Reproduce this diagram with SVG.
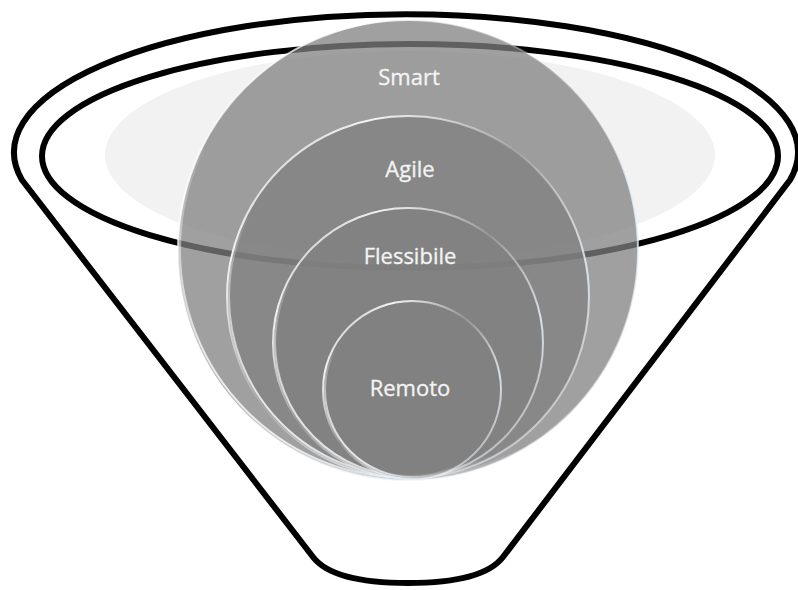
<svg xmlns="http://www.w3.org/2000/svg" width="798" height="590" viewBox="0 0 798 590">
  <defs>
    <linearGradient id="hl" x1="0" y1="0" x2="1" y2="1">
      <stop offset="0" stop-color="#ffffff" stop-opacity="0.2"/>
      <stop offset="0.2" stop-color="#ffffff" stop-opacity="0.9"/>
      <stop offset="0.45" stop-color="#ffffff" stop-opacity="0.15"/>
      <stop offset="0.7" stop-color="#e8f0f8" stop-opacity="0.85"/>
      <stop offset="1" stop-color="#ffffff" stop-opacity="0.2"/>
    </linearGradient>
    <linearGradient id="hl2" x1="1" y1="0" x2="0" y2="1">
      <stop offset="0" stop-color="#ffffff" stop-opacity="0"/>
      <stop offset="0.6" stop-color="#ffffff" stop-opacity="0"/>
      <stop offset="0.85" stop-color="#ffffff" stop-opacity="0.8"/>
      <stop offset="1" stop-color="#ffffff" stop-opacity="0.3"/>
    </linearGradient>
  </defs>
  <style>
    .line { fill: none; stroke: #000000; stroke-width: 6; stroke-linejoin: round; }
    .disc { fill: #808080; fill-opacity: 0.75; stroke: url(#hl); stroke-width: 2; }
    .glow { fill: none; stroke: url(#hl2); stroke-width: 2; }
    .label { font-family: "Open Sans", "Noto Sans", "Liberation Sans", sans-serif; font-size: 22px; fill: #f4f4f4; stroke: #f4f4f4; stroke-width: 0.3; text-anchor: middle; }
  </style>
  <rect width="798" height="590" fill="#ffffff"/>
  <g id="funnel">
    <ellipse cx="410" cy="155" rx="305" ry="104" fill="#f2f2f2"/>
    <ellipse cx="410" cy="156" rx="368" ry="112" class="line"/>
    <path class="line" d="M 313 557 L 22 180 A 392 138 0 1 1 790 180 L 503 557 C 490 574 460 583 408 583 C 356 583 326 574 313 557 Z"/>
  </g>
  <g id="connectors"></g>
  <g id="smart">
    <circle cx="408" cy="250" r="230" class="disc"/>
    <circle cx="408" cy="250" r="228" class="glow"/>
    <text x="409" y="85" class="label">Smart</text>
  </g>
  <g id="agile">
    <circle cx="408" cy="297" r="181" class="disc"/>
    <circle cx="408" cy="297" r="179" class="glow"/>
    <text x="410" y="177" class="label">Agile</text>
  </g>
  <g id="flessibile">
    <circle cx="408" cy="343" r="135" class="disc"/>
    <circle cx="408" cy="343" r="133" class="glow"/>
    <text x="410" y="264" class="label">Flessibile</text>
  </g>
  <g id="remoto">
    <circle cx="412" cy="390" r="89" class="disc"/>
    <circle cx="412" cy="390" r="87" class="glow"/>
    <text x="410" y="396" class="label">Remoto</text>
  </g>
</svg>
